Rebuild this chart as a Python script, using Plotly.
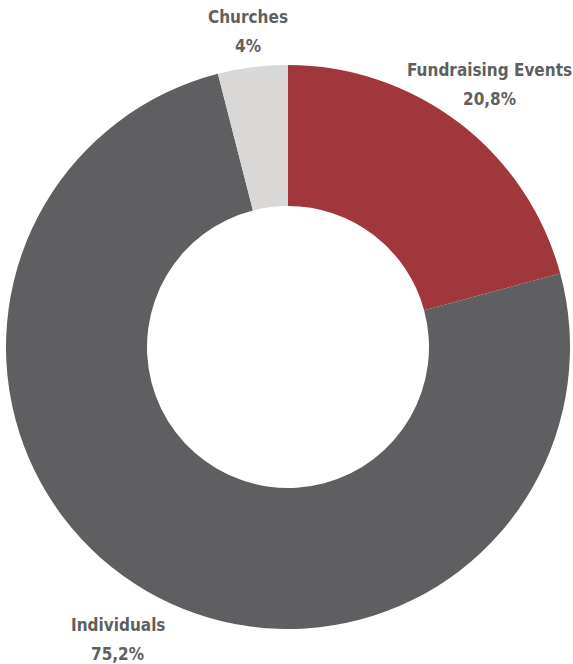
import math
import plotly.graph_objects as go

labels = ["Fundraising Events", "Individuals", "Churches"]
values = [20.8, 75.2, 4.0]
value_text = ["20,8%", "75,2%", "4%"]
colors = ["#a0373c", "#5f5f61", "#d9d8d7"]

W, H = 573, 664
# pie square in pixels: left 6, right 570, top 65, bottom 629
px0, px1, py0, py1 = 6, 570, 65, 629

fig = go.Figure(go.Pie(
    labels=labels, values=values, hole=0.5, sort=False,
    direction="clockwise", rotation=0,
    marker=dict(colors=colors, line=dict(width=0)),
    textinfo="none", hoverinfo="label+percent", showlegend=False,
    domain=dict(x=[px0 / W, px1 / W], y=[(H - py1) / H, (H - py0) / H]),
))

# label placement along each slice's mid angle
label_dist = [1.175, 1.2, 1.128]
total = sum(values)
cum = 0.0
annotations = []
cxp, cyp, rp = (px0 + px1) / 2, (py0 + py1) / 2, (px1 - px0) / 2
font = dict(family="DejaVu Sans Condensed, Liberation Sans Narrow, sans-serif",
            size=17, color="#5f5f61", weight="bold")
for lab, v, vt, f in zip(labels, values, value_text, label_dist):
    mid = (cum + v / 2) / total * 2 * math.pi
    cum += v
    xpix = cxp + rp * f * math.sin(mid)
    ypix = cyp - rp * f * math.cos(mid)
    for txt, dy in ((lab, -14), (vt, 15)):
        annotations.append(dict(
            x=xpix / W, y=1 - (ypix + dy) / H, xref="paper", yref="paper",
            showarrow=False, text=txt, font=font,
            xanchor="center", yanchor="middle",
        ))

fig.update_layout(
    width=W, height=H,
    margin=dict(l=0, r=0, t=0, b=0),
    paper_bgcolor="white", plot_bgcolor="white",
    annotations=annotations,
)
fig.write_html("out.html", config={"displayModeBar": False},
               post_script="document.body.style.margin='0';")
